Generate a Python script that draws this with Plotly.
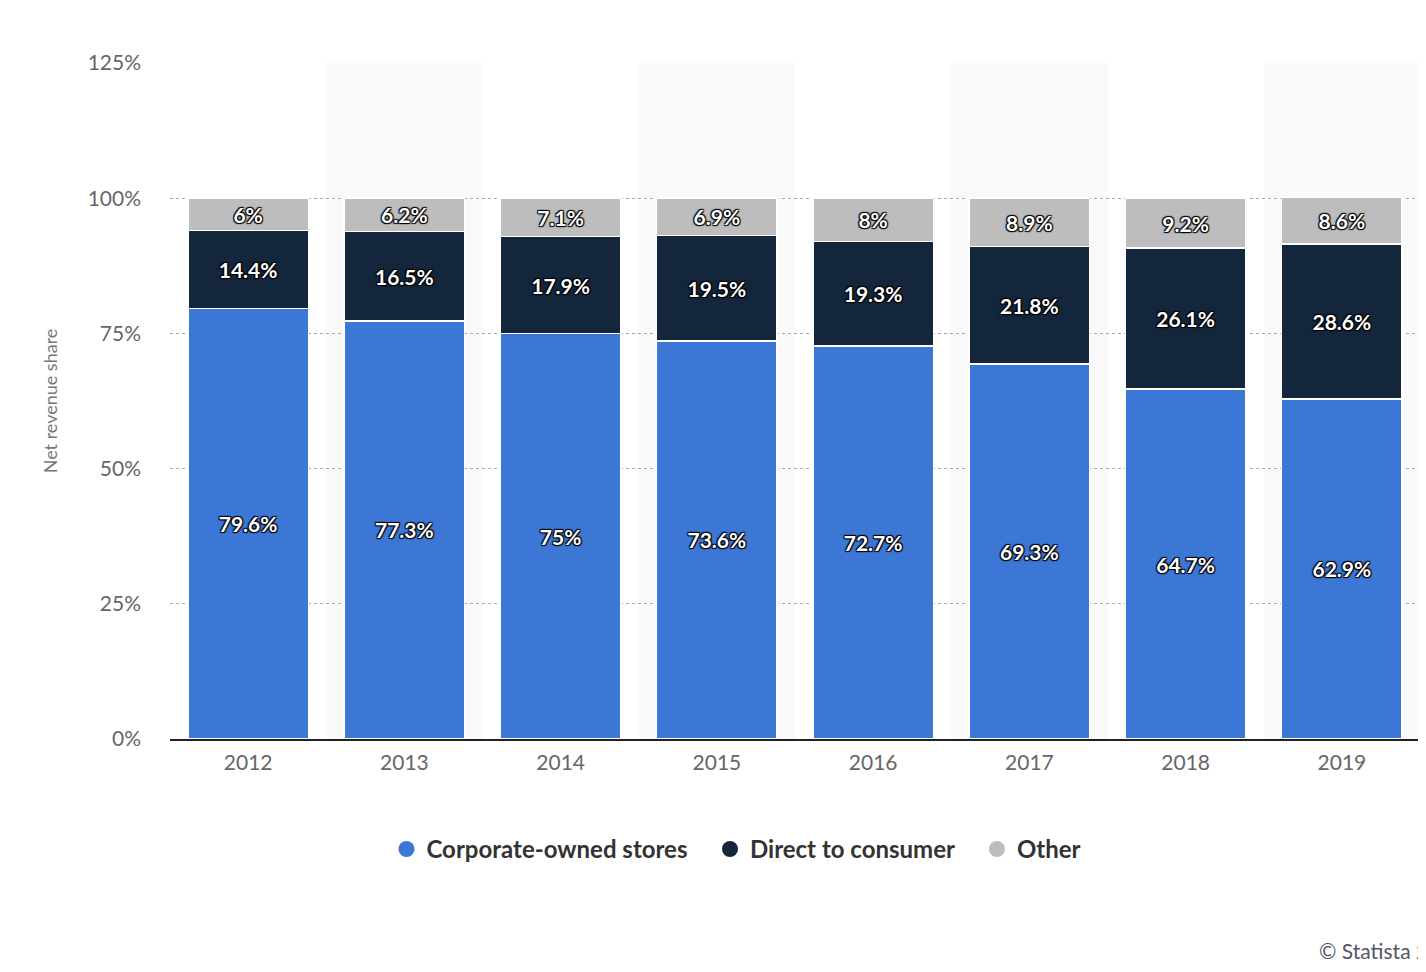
import plotly.graph_objects as go

years = ["2012","2013","2014","2015","2016","2017","2018","2019"]
corporate = [79.6,77.3,75,73.6,72.7,69.3,64.7,62.9]
direct = [14.4,16.5,17.9,19.5,19.3,21.8,26.1,28.6]
other = [6,6.2,7.1,6.9,8,8.9,9.2,8.6]

def lab(v):
    return [f"{x:g}%" for x in v]

fig = go.Figure()
font = dict(family="Lato, DejaVu Sans", size=21, color="white", weight="bold",
            shadow="1px 1px 1px black, -1px -1px 1px black, 1px -1px 1px black, -1px 1px 1px black")
series = [("Corporate-owned stores", corporate, "#3c77d6"),
          ("Direct to consumer", direct, "#14263c"),
          ("Other", other, "#bdbdbd")]
for name, vals, col in series:
    fig.add_bar(x=years, y=vals, name=name, showlegend=False,
                marker=dict(color=col, line=dict(color="white", width=1.5)),
                text=lab(vals), textposition="inside", insidetextanchor="middle",
                textangle=0, textfont=font, constraintext="none")
for name, vals, col in series:
    fig.add_scatter(x=[None], y=[None], mode="markers", name=name + "   ",
                    marker=dict(color=col, size=24, symbol="circle"))

shapes = []
for i, y in enumerate(years):
    if i % 2 == 1:
        shapes.append(dict(type="rect", xref="x", yref="paper", x0=i-0.5, x1=i+0.5, y0=0, y1=1,
                           fillcolor="#f9f9f9", line=dict(width=0), layer="below"))

fig.update_layout(
    barmode="stack", bargap=0.23, width=1426, height=972,
    margin=dict(l=162, r=14, t=55, b=241, autoexpand=False),
    plot_bgcolor="white", paper_bgcolor="white", shapes=shapes,
    font=dict(family="Lato, DejaVu Sans", color="#666"),
    legend=dict(orientation="h", x=0.46, xanchor="center", y=-0.13, yanchor="top",
                traceorder="normal", font=dict(size=24, color="#333", weight="bold"), itemsizing="trace"),
    xaxis=dict(tickfont=dict(size=21, color="#666"), showline=True, linecolor="#222", linewidth=2,
               ticks="", range=[-0.5, 7.5], ticklabelstandoff=4, automargin=False),
    yaxis=dict(range=[0,125], tickvals=[0,25,50,75,100,125], ticktext=["0%","25%","50%","75%","100%","125%"],
               tickfont=dict(size=21, color="#666"), gridcolor="#aaa", griddash="dot", gridwidth=1, zeroline=False,
               ticklabelstandoff=28, automargin=False,
               title=dict(text="Net revenue share", font=dict(size=18, color="#777"), standoff=25)),
)
fig.add_annotation(text="© Statista 2", xref="paper", yref="paper", x=1.008, y=-0.335, xanchor="right",
                   showarrow=False, font=dict(size=21, color="#556"))
fig.write_html("out.html")
